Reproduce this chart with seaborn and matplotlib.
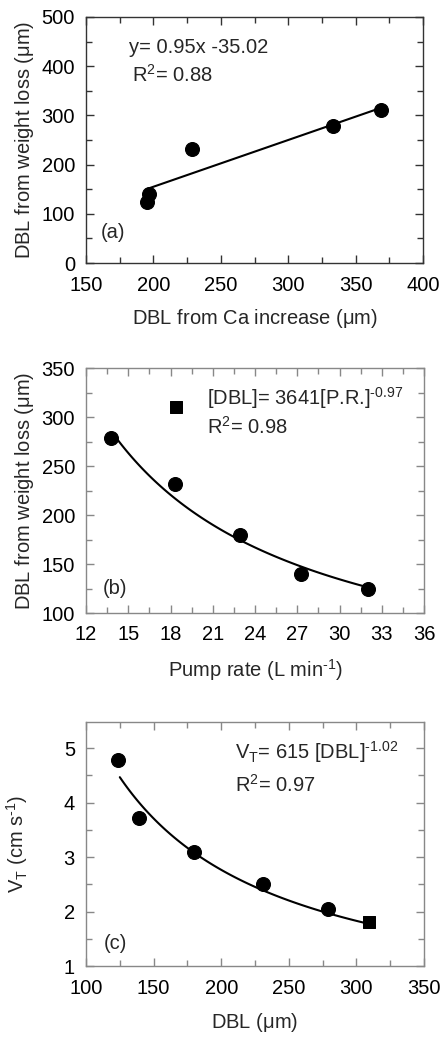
import numpy as np
import pandas as pd
import matplotlib
matplotlib.use("Agg")
import matplotlib.pyplot as plt
from matplotlib.ticker import MultipleLocator
import seaborn as sns

# (a) DBL from Ca increase vs DBL from weight loss
a_x = [195, 197, 229, 333, 369]
a_y = [125, 140, 232, 279, 310]
a_fit = [0.95, -35.02]          # slope, intercept
a_fit_range = [195, 369]

# (b) pump rate vs DBL from weight loss
b_x = [13.8, 18.3, 22.9, 27.3, 32.0]
b_y = [279, 232, 180, 140, 125]
b_sq_x = [18.4]
b_sq_y = [310]
b_fit = [3641, -0.97]           # coefficient, exponent
b_fit_range = [14, 32]

# (c) DBL vs transfer velocity
c_x = [124, 139, 180, 231, 279]
c_y = [4.78, 3.72, 3.10, 2.50, 2.05]
c_sq_x = [309]
c_sq_y = [1.80]
c_fit = [615, -1.02]
c_fit_range = [125, 309]

sns.set_style("ticks")
plt.rcParams['font.family'] = ['Liberation Sans', 'DejaVu Sans']
plt.rcParams['mathtext.fontset'] = 'custom'
plt.rcParams['mathtext.rm'] = 'Liberation Sans'
plt.rcParams['mathtext.it'] = 'Liberation Sans'
plt.rcParams['axes.unicode_minus'] = False

FS = 14.5
fig = plt.figure(figsize=(4.41, 10.41), dpi=100)
W, H = 441, 1041


def make_ax(left, top, right, bottom):
    return fig.add_axes([left / W, 1 - bottom / H, (right - left) / W, (bottom - top) / H])


def style(ax, xmaj, xmin, ymaj, ymin, spine_col):
    ax.xaxis.set_major_locator(MultipleLocator(xmaj))
    ax.xaxis.set_minor_locator(MultipleLocator(xmin))
    ax.yaxis.set_major_locator(MultipleLocator(ymaj))
    ax.yaxis.set_minor_locator(MultipleLocator(ymin))
    ax.tick_params(which='both', direction='in', top=True, right=True,
                   color=spine_col, labelsize=FS, labelcolor='black', width=1)
    ax.tick_params(which='major', length=6)
    ax.tick_params(axis='x', which='major', pad=9)
    ax.tick_params(axis='y', which='major', pad=8)
    ax.tick_params(which='minor', length=4)
    for s in ax.spines.values():
        s.set_visible(True)
        s.set_color(spine_col)
        s.set_linewidth(1)


ms = 100

# ---- panel (a)
ax1 = make_ax(86, 17, 423, 263)
sns.scatterplot(x=a_x, y=a_y, ax=ax1, color='black', s=ms, marker='o', edgecolor='black', zorder=3)
xa = np.linspace(a_fit_range[0], a_fit_range[1], 50)
sns.lineplot(x=xa, y=a_fit[0] * xa + a_fit[1], ax=ax1, color='black', lw=1.5)
ax1.set_xlim(150, 400)
ax1.set_ylim(0, 500)
style(ax1, 50, 25, 100, 50, '#333333')
ax1.set_xlabel(r'DBL from Ca increase ($\mu$m)', fontsize=FS, labelpad=9)
ax1.set_ylabel(r'DBL from weight loss ($\mu$m)', fontsize=FS, labelpad=4)
ax1.text(182, 437, 'y= 0.95x -35.02', fontsize=FS, va='center')
ax1.text(184, 382, r'R$^2$= 0.88', fontsize=FS, va='center')
ax1.text(161, 61, '(a)', fontsize=FS, va='center')

# ---- panel (b)
ax2 = make_ax(86, 368, 424, 613)
sns.scatterplot(x=b_x, y=b_y, ax=ax2, color='black', s=ms, marker='o', edgecolor='black', zorder=3)
sns.scatterplot(x=b_sq_x, y=b_sq_y, ax=ax2, color='black', s=ms * 0.8, marker='s', edgecolor='black', zorder=3)
xb = np.linspace(b_fit_range[0], b_fit_range[1], 100)
sns.lineplot(x=xb, y=b_fit[0] * xb ** b_fit[1], ax=ax2, color='black', lw=1.5)
ax2.set_xlim(12, 36)
ax2.set_ylim(100, 350)
style(ax2, 3, 1.5, 50, 25, '#888888')
ax2.set_xlabel('Pump rate (L min$^{\u20101}$)', fontsize=FS, labelpad=9)
ax2.set_ylabel(r'DBL from weight loss ($\mu$m)', fontsize=FS, labelpad=4)
ax2.text(20.6, 319, '[DBL]= 3641[P.R.]$^{\u20100.97}$', fontsize=FS, va='center')
ax2.text(20.6, 290, r'R$^2$= 0.98', fontsize=FS, va='center')
ax2.text(13.2, 125, '(b)', fontsize=FS, va='center')

# ---- panel (c)
ax3 = make_ax(86, 722, 424, 966)
sns.scatterplot(x=c_x, y=c_y, ax=ax3, color='black', s=ms, marker='o', edgecolor='black', zorder=3)
sns.scatterplot(x=c_sq_x, y=c_sq_y, ax=ax3, color='black', s=ms * 0.8, marker='s', edgecolor='black', zorder=3)
xc = np.linspace(c_fit_range[0], c_fit_range[1], 100)
sns.lineplot(x=xc, y=c_fit[0] * xc ** c_fit[1], ax=ax3, color='black', lw=1.5)
ax3.set_xlim(100, 350)
ax3.set_ylim(1, 5.48)
style(ax3, 50, 25, 1, 0.5, '#888888')
ax3.set_xlabel(r'DBL ($\mu$m)', fontsize=FS, labelpad=10)
ax3.set_ylabel('V$_{\\rm T}$ (cm s$^{\u20101}$)', fontsize=FS, labelpad=24)
ax3.text(210, 4.92, 'V$_{\\rm T}$= 615 [DBL]$^{\u20101.02}$', fontsize=FS, va='center')
ax3.text(210, 4.33, r'R$^2$= 0.97', fontsize=FS, va='center')
ax3.text(113, 1.42, '(c)', fontsize=FS, va='center')

fig.savefig('out.png', dpi=100)
